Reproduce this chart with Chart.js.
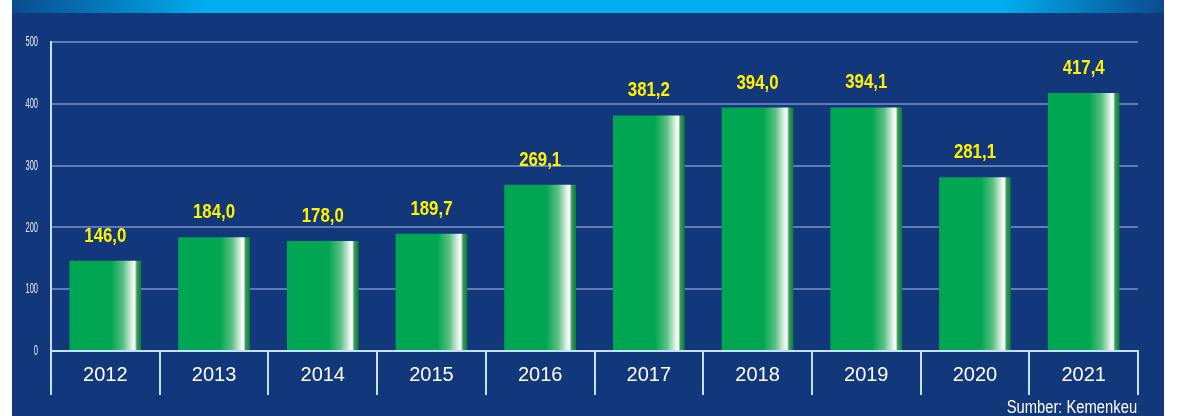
<!DOCTYPE html>
<html lang="id">
<head>
    <meta charset="UTF-8">
    <title>Sumber: Kemenkeu</title>
    <style>
        html, body {
            margin: 0;
            padding: 0;
            background: #ffffff;
        }
        .wrap {
            position: relative;
            width: 1187px;
            height: 416px;
            overflow: hidden;
        }
        .panel {
            position: absolute;
            left: 12px;
            top: 0;
            width: 1152px;
            height: 416px;
            background: #13377b;
        }
        .topbar {
            position: absolute;
            left: 0;
            top: 0;
            width: 100%;
            height: 13px;
            background: linear-gradient(to right, #0b4b8e 0%, #00aeef 17%, #00aeef 86%, #0b4b8e 100%);
        }
        canvas {
            position: absolute;
            left: 0;
            top: 0;
        }
        .source {
            position: absolute;
            right: 50px;
            top: 397px;
            font-family: "Liberation Sans", Arial, sans-serif;
            font-size: 18px;
            color: #ffffff;
            line-height: 20px;
            transform: scaleX(0.82);
            transform-origin: right center;
            white-space: nowrap;
        }
    </style>
    <script src="https://cdn.jsdelivr.net/npm/chart.js"></script>
</head>
<body>
    <div class="wrap">
        <div class="panel"><div class="topbar"></div></div>
        <canvas id="chart" width="1187" height="416"></canvas>
        <div class="source">Sumber: Kemenkeu</div>
    </div>

    <script>
        // data
        const years = ['2012', '2013', '2014', '2015', '2016', '2017', '2018', '2019', '2020', '2021'];
        const values = [146.0, 184.0, 178.0, 189.7, 269.1, 381.2, 394.0, 394.1, 281.1, 417.4];
        const yTicks = [0, 100, 200, 300, 400, 500];

        const fmt = v => v.toFixed(1).replace('.', ',');

        // horizontal shading of each bar
        function barFill(context) {
            const chart = context.chart;
            const xs = chart.scales.x;
            if (!xs || !chart.chartArea) return '#00a651';
            const center = xs.getPixelForValue(context.dataIndex);
            const w = (xs.width / years.length) * 0.66;
            const g = chart.ctx.createLinearGradient(center - w / 2, 0, center + w / 2, 0);
            g.addColorStop(0, '#00a651');
            g.addColorStop(0.58, '#00a651');
            g.addColorStop(0.75, '#5cc084');
            g.addColorStop(0.88, '#eaf6ee');
            g.addColorStop(0.91, '#ffffff');
            g.addColorStop(0.94, '#3a9a5c');
            g.addColorStop(1, '#0a7c3c');
            return g;
        }

        // value labels above bars + condensed y tick labels
        const labelsPlugin = {
            id: 'labels',
            afterDatasetsDraw(chart) {
                const ctx = chart.ctx;
                const meta = chart.getDatasetMeta(0);
                ctx.save();
                ctx.fillStyle = '#fff200';
                ctx.font = 'bold 21px "Liberation Sans", Arial, sans-serif';
                ctx.textAlign = 'center';
                ctx.textBaseline = 'alphabetic';
                meta.data.forEach((bar, i) => {
                    ctx.save();
                    ctx.translate(bar.x, bar.y - 19);
                    ctx.scale(0.8, 1);
                    ctx.fillText(fmt(values[i]), 0, 0);
                    ctx.restore();
                });
                ctx.restore();

                const ys = chart.scales.y;
                ctx.save();
                ctx.fillStyle = '#e6ecf6';
                ctx.font = '15px "Liberation Sans", Arial, sans-serif';
                ctx.textAlign = 'right';
                ctx.textBaseline = 'middle';
                yTicks.forEach(t => {
                    const py = ys.getPixelForValue(t);
                    ctx.save();
                    ctx.translate(38, py);
                    ctx.scale(0.5, 1);
                    ctx.fillText(String(t), 0, 0);
                    ctx.restore();
                });
                ctx.restore();
            }
        };

        new Chart(document.getElementById('chart'), {
            type: 'bar',
            data: {
                labels: years,
                datasets: [{
                    data: values,
                    backgroundColor: barFill,
                    borderWidth: 0,
                    categoryPercentage: 1,
                    barPercentage: 0.66
                }]
            },
            options: {
                responsive: false,
                animation: false,
                layout: {
                    padding: { top: 42, right: 49, bottom: 21, left: 0 }
                },
                plugins: {
                    legend: { display: false },
                    tooltip: { enabled: false }
                },
                scales: {
                    x: {
                        grid: {
                            offset: true,
                            drawOnChartArea: false,
                            drawTicks: true,
                            tickLength: 44,
                            color: '#c2e2f7',
                            lineWidth: 2
                        },
                        border: { display: true, color: '#c2e2f7', width: 2 },
                        ticks: {
                            color: '#ffffff',
                            font: { family: '"Liberation Sans", Arial, sans-serif', size: 20 },
                            padding: -32
                        },
                        afterFit(scale) { scale.height = 44; }
                    },
                    y: {
                        min: 0,
                        max: 500,
                        ticks: { stepSize: 100, display: false },
                        grid: {
                            color: '#5f7cb8',
                            lineWidth: 2,
                            drawTicks: false
                        },
                        border: { display: true, color: '#c2e2f7', width: 2 },
                        afterFit(scale) { scale.width = 51; }
                    }
                }
            },
            plugins: [labelsPlugin]
        });
    </script>
</body>
</html>
